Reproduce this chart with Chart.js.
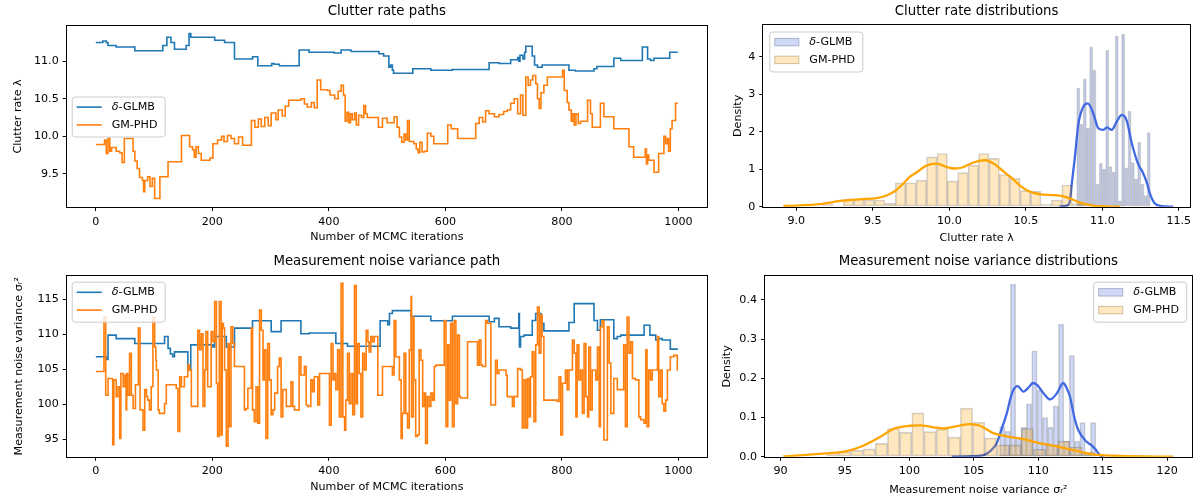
<!DOCTYPE html>
<html>
<head>
<meta charset="utf-8">
<script src="https://cdn.jsdelivr.net/npm/chart.js@4.4.1/dist/chart.umd.min.js"></script>
<style>
  body { margin: 0; background: #fff; width: 1196px; height: 501px; overflow: hidden; position: relative; }
  canvas { position: absolute; }
</style>
</head>
<body>
<canvas id="clutterPath" width="720" height="250" style="left:0;top:0"></canvas>
<canvas id="clutterDist" width="476" height="250" style="left:720px;top:0"></canvas>
<canvas id="noisePath" width="720" height="251" style="left:0;top:250px"></canvas>
<canvas id="noiseDist" width="476" height="251" style="left:720px;top:250px"></canvas>
<script>
// --- paths: change points [iteration, value] ---
const iterTicks = [0, 200, 400, 600, 800, 1000];
const clutterTicks = [9.5, 10.0, 10.5, 11.0];
const noiseTicks = [95, 100, 105, 110, 115];

const clutterGlmb = [[0,11.25],[12,11.27],[18,11.25],[21,11.21],[35,11.19],[67,11.14],[115,11.21],[122,11.32],[129,11.25],[135,11.16],[155,11.21],[160,11.37],[163,11.32],[204,11.28],[221,11.25],[238,11.03],[269,11.06],[278,10.94],[302,10.97],[306,10.96],[315,10.94],[349,11.15],[366,11.12],[409,11.11],[421,11.15],[438,11.13],[486,11.10],[494,11.07],[503,10.92],[506,10.95],[509,10.88],[511,10.84],[544,10.90],[575,10.88],[612,10.89],[675,10.98],[692,10.97],[712,11.02],[724,11.05],[726,11.00],[728,11.08],[733,11.03],[736,11.12],[738,11.20],[749,11.07],[753,10.95],[758,10.92],[766,10.95],[812,10.88],[823,10.87],[855,10.90],[860,10.93],[889,11.04],[901,11.01],[938,11.19],[947,11.03],[952,11.01],[958,11.04],[985,11.12],[999,11.12]];

const clutterPhd = [[0,9.89],[15,9.95],[18,9.77],[21,9.97],[24,9.8],[27,9.85],[35,9.8],[41,9.78],[45,9.65],[49,9.97],[64,9.8],[67,9.67],[71,9.57],[75,9.45],[80,9.41],[82,9.26],[84,9.41],[89,9.46],[93,9.33],[97,9.44],[101,9.17],[110,9.46],[124,9.66],[147,10.01],[161,9.86],[166,9.82],[169,9.72],[172,9.86],[176,9.77],[181,9.68],[196,9.71],[201,9.9],[209,9.95],[216,10.0],[220,9.93],[226,10.01],[232,9.97],[238,9.9],[245,9.99],[252,9.88],[267,10.21],[273,10.12],[279,10.23],[284,10.13],[290,10.25],[296,10.14],[301,10.31],[309,10.22],[313,10.35],[320,10.27],[325,10.4],[331,10.48],[352,10.5],[358,10.43],[363,10.39],[370,10.45],[375,10.38],[380,10.75],[386,10.62],[398,10.61],[402,10.55],[410,10.5],[416,10.6],[421,10.68],[425,10.55],[428,10.2],[431,10.32],[434,10.18],[437,10.3],[440,10.22],[444,10.31],[447,10.15],[451,10.28],[456,10.25],[460,10.41],[463,10.3],[466,10.25],[478,10.25],[485,10.12],[492,10.24],[500,10.18],[512,10.26],[517,10.12],[521,9.99],[525,9.92],[529,10.03],[532,9.95],[535,10.21],[538,9.93],[546,9.9],[550,9.83],[553,9.78],[556,9.92],[560,9.79],[564,9.8],[569,10.04],[575,10.0],[580,9.9],[604,10.15],[610,10.1],[621,9.97],[652,10.17],[658,10.25],[664,10.19],[669,10.34],[675,10.3],[684,10.26],[692,10.29],[700,10.33],[706,10.35],[712,10.44],[718,10.5],[724,10.3],[729,10.55],[733,10.28],[738,10.79],[742,10.68],[746,10.75],[750,10.81],[755,10.7],[758,10.5],[761,10.37],[764,10.58],[769,10.68],[775,10.79],[801,10.88],[804,10.61],[809,10.45],[812,10.35],[816,10.2],[818,10.3],[821,10.15],[824,10.3],[828,10.17],[832,10.2],[844,10.48],[849,10.3],[852,10.12],[866,10.44],[872,10.26],[889,10.1],[915,9.86],[923,9.72],[943,9.83],[945,9.63],[947,9.75],[949,9.68],[958,9.52],[966,9.77],[975,10.0],[978,9.9],[981,9.97],[983,9.8],[986,10.1],[989,10.21],[995,10.44],[999,10.44]];

const noiseGlmb = [[0,106.8],[18,106.4],[21,109.9],[35,109.4],[67,108.7],[118,109.7],[124,108.0],[128,107.2],[132,106.8],[135,107.5],[158,104.9],[163,108.5],[201,108.2],[204,109.7],[224,108.2],[238,110.9],[269,111.95],[301,110.4],[318,111.95],[352,110.1],[366,110.2],[412,108.7],[432,108.3],[488,111.95],[501,111.4],[504,113.0],[509,113.4],[541,112.6],[575,111.95],[612,112.6],[675,111.8],[684,112.3],[692,111.1],[712,110.9],[726,113.0],[727,108.2],[729,109.7],[735,109.9],[749,112.0],[755,113.0],[764,111.6],[769,110.5],[812,111.7],[821,114.4],[855,112.0],[861,110.6],[866,112.1],[889,109.4],[895,109.7],[901,109.9],[941,111.3],[951,109.9],[961,109.2],[966,109.4],[972,109.2],[986,107.9],[999,107.9]];

const noisePhd = [[0,104.7],[14,112.5],[17,101.3],[21,103.7],[29,94.2],[31,103.5],[35,101.1],[38,102.5],[41,95.1],[43,104.4],[47,102.5],[50,104.2],[52,99.2],[53,104.4],[55,101.3],[58,107.3],[61,101.3],[64,99.4],[68,102.8],[73,110.9],[76,99.2],[81,96.3],[84,102.1],[87,101.1],[89,100.6],[92,99.2],[95,102.5],[98,112.5],[101,108.2],[103,106.3],[104,104.9],[107,99.2],[109,98.7],[118,100.1],[121,102.8],[138,102.3],[141,96.1],[144,103.95],[147,102.5],[152,103.95],[158,105.6],[161,104.9],[164,99.7],[175,110.6],[178,107.8],[181,110.1],[184,99.7],[187,104.9],[189,110.4],[192,102.5],[198,110.4],[201,108.95],[204,114.7],[207,103],[209,95.4],[212,114.7],[215,95.6],[217,111.6],[219,110.9],[221,104.9],[224,94],[227,108.7],[229,96.8],[232,111.1],[235,108.7],[238,105.4],[255,99.2],[258,99.4],[261,102.3],[267,110.9],[269,99.2],[272,97.5],[275,102.5],[278,97.3],[281,113.5],[284,110.6],[287,103.5],[289,107.8],[292,95.1],[295,108.7],[298,103.5],[301,98.5],[304,99.2],[307,101.6],[312,105.4],[315,106.6],[318,98.2],[321,102.1],[327,99.7],[335,103.2],[338,99.7],[341,99.2],[349,106.8],[352,104.2],[358,105.4],[361,99.9],[364,99.7],[369,103.5],[372,101.8],[375,103.95],[381,99.9],[384,104.4],[401,97],[404,108.7],[407,103.5],[409,104.4],[412,102.1],[415,107.8],[418,98.2],[421,117.3],[424,98.2],[427,96.3],[429,100.6],[432,107.3],[435,100.1],[438,104.4],[441,98.5],[444,117],[447,100.1],[449,108.7],[452,104.4],[455,98.2],[458,107.3],[461,104.9],[464,110.6],[467,108.95],[469,107.5],[472,109.7],[475,108.95],[478,109.7],[484,101.3],[492,105.4],[509,104.2],[512,112],[515,106.8],[521,103.5],[524,95.1],[526,98.7],[529,107.3],[532,98.7],[535,96.6],[538,107.8],[541,115.4],[542,98.2],[545,112.5],[546,103.5],[549,95.4],[552,95.6],[555,107.8],[558,106.3],[561,99.7],[564,101.6],[566,94.4],[569,101.1],[572,99.7],[575,101.6],[578,100.6],[581,105.4],[584,105.6],[598,112],[601,96.8],[604,108.5],[606,100.6],[609,111.6],[612,96.8],[615,112],[618,100.1],[621,109.9],[624,101.1],[626,100.9],[638,108.95],[655,105.6],[658,109.2],[661,105.6],[664,105.4],[669,112],[672,111.6],[678,99.9],[686,106.3],[689,104.4],[692,104.9],[704,104.2],[706,101.1],[715,99.7],[718,101.1],[724,105.1],[729,104.9],[732,96.6],[735,103.5],[738,96.6],[741,103.7],[744,98.2],[746,103.95],[749,107.5],[752,97.5],[755,108.5],[758,113.9],[761,107.3],[764,112.8],[766,109.7],[769,100.6],[792,100.4],[795,103.95],[798,95.6],[801,103],[806,104.9],[809,102.1],[812,104.9],[818,109.2],[821,107.3],[824,98.2],[826,108.5],[829,103.5],[832,104.9],[835,98.7],[838,108.7],[841,101.1],[844,98.2],[846,108.2],[849,99.2],[852,104.9],[858,103.5],[861,108.2],[864,96.8],[866,111.1],[869,112],[872,94.9],[878,111.1],[881,105.9],[884,98.7],[889,103.7],[895,102.1],[906,108.5],[909,96.8],[912,112.5],[915,107.3],[918,108.95],[921,103.7],[926,103.5],[932,98.2],[935,97.8],[941,97.3],[944,107.8],[946,96.8],[949,104.9],[952,103.5],[955,104.9],[964,109.7],[966,101.1],[969,104.9],[972,100.1],[975,99],[978,100.6],[981,104.9],[986,106.8],[992,107],[998,104.9],[999,104.9]];

// --- clutter rate distributions ---
const lambdaTicks = [9.0, 9.5, 10.0, 10.5, 11.0, 11.5];
const densityTicksTop = [0, 1, 2, 3, 4];
const lambdaBinsPhd = [9.205,9.273,9.341,9.409,9.477,9.545,9.613,9.681,9.749,9.817,9.885,9.953,10.021,10.089,10.157,10.225,10.293,10.361,10.429,10.497,10.565,10.633,10.701,10.769,10.837,10.905,10.973,11.041,11.109];
const lambdaHistPhd = [0.07,0,0.2,0.2,0.18,0.18,0.09,0.64,0.64,0.71,1.33,1.42,0.69,0.91,1.11,1.42,1.29,0.86,0.76,0.43,0.41,0.07,0.18,0.58,0.08,0.03,0.03,0,0.03];
const lambdaBinsGlmb = [10.843,10.864,10.885,10.906,10.927,10.948,10.969,10.990,11.011,11.032,11.053,11.074,11.094,11.115,11.136,11.157,11.178,11.199,11.220,11.241,11.262,11.283,11.303];
const lambdaHistGlmb = [3.16,2.2,3.41,2.09,4.27,3.65,0.6,1.16,1.0,4.18,1.07,0.93,4.56,0.16,4.6,1.04,2.55,1.18,0.74,1.72,0.6,0.3,1.98];
const lambdaKdeGlmb = [[10.72,0],[10.76,0.02],[10.785,0.1],[10.80,0.6],[10.82,1.3],[10.843,2.2],[10.876,2.67],[10.905,2.76],[10.94,2.5],[10.974,2.09],[11.007,2.05],[11.03,2.12],[11.061,2.05],[11.094,2.27],[11.127,2.45],[11.159,2.3],[11.192,1.7],[11.235,1.13],[11.26,0.95],[11.29,0.65],[11.315,0.3],[11.34,0.1],[11.38,0.02],[11.464,0]];
const lambdaKdePhd = [[8.915,0.02],[9.0,0.03],[9.155,0.07],[9.3,0.16],[9.42,0.2],[9.525,0.23],[9.59,0.3],[9.645,0.42],[9.7,0.62],[9.743,0.8],[9.787,0.92],[9.852,1.1],[9.918,1.15],[9.983,1.06],[10.03,1.02],[10.08,1.04],[10.157,1.18],[10.235,1.24],[10.29,1.15],[10.331,1.02],[10.375,0.87],[10.418,0.73],[10.46,0.57],[10.506,0.44],[10.55,0.37],[10.593,0.33],[10.68,0.31],[10.74,0.28],[10.8,0.2],[10.854,0.11],[10.941,0.03],[11.03,0.01],[11.116,0]];

// --- measurement noise variance distributions ---
const sigmaTicks = [90, 95, 100, 105, 110, 115, 120];
const densityTicksBottom = [0, 0.1, 0.2, 0.3, 0.4];
const sigmaBinsPhd = [94.05,94.99,95.94,96.88,97.83,98.77,99.71,100.66,101.60,102.55,103.49,104.43,105.38,106.32,107.27,108.21,109.15,110.10,111.04,111.99,112.93,113.87,114.82];
const sigmaHistPhd = [0.01,0.013,0.016,0.02,0.034,0.072,0.062,0.112,0.064,0.07,0.05,0.124,0.088,0.048,0.03,0.03,0.072,0.019,0.03,0.04,0.025,0.012,0.005];
const sigmaBinsGlmb = [105.13,105.55,105.96,106.38,106.79,107.21,107.62,108.04,108.45,108.87,109.28,109.70,110.11,110.53,110.94,111.36,111.77,112.19,112.60,113.02,113.43,113.85,114.26];
const sigmaHistGlmb = [0.003,0,0,0,0,0.077,0.065,0.44,0.05,0.075,0.135,0.27,0.17,0.1,0.075,0.13,0.338,0.04,0.258,0.04,0.087,0.008,0.087];
const sigmaKdeGlmb = [[103.28,0],[104.5,0.001],[105.73,0.004],[106.3,0.015],[106.77,0.034],[107.2,0.075],[107.55,0.11],[107.85,0.15],[108.06,0.17],[108.4,0.18],[108.84,0.166],[109.2,0.175],[109.61,0.188],[109.9,0.183],[110.13,0.174],[110.5,0.158],[110.91,0.146],[111.43,0.161],[111.94,0.188],[112.2,0.175],[112.46,0.153],[112.8,0.1],[113.1,0.068],[113.75,0.038],[114.1,0.03],[114.4,0.02],[114.79,0.004],[115.04,0]];
const sigmaKdePhd = [[90.22,0.001],[93.06,0.007],[95.13,0.014],[96.42,0.028],[97.72,0.05],[98.75,0.071],[100.05,0.079],[100.82,0.08],[101.86,0.075],[102.63,0.072],[103.67,0.078],[104.7,0.083],[105.48,0.079],[106.51,0.06],[107.55,0.052],[109.1,0.043],[110.13,0.034],[111.16,0.028],[112.71,0.017],[114.27,0.006],[116.34,0.002],[120.47,0]];

const BLUE = '#1f77b4', ORANGE = '#ff7f0e';
const KDE_BLUE = '#4169e1', KDE_ORANGE = '#ffa500';
const HIST_BLUE = 'rgba(65,105,225,0.25)', HIST_ORANGE = 'rgba(255,165,0,0.25)';
const HIST_EDGE = 'rgba(0,0,0,0.18)';
const FONT = 'DejaVu Sans';

Chart.defaults.font.family = FONT;
Chart.defaults.font.size = 11.1;
Chart.defaults.color = '#000';

const xy = pts => pts.map(p => ({ x: p[0], y: p[1] }));
const bars = (centers, heights) => centers.map((c, i) => ({ x: c, y: heights[i] }));

function axis(pos, min, max, ticks, digits, size, title, titlePad) {
  const horizontal = pos === 'bottom';
  return {
    type: 'linear', position: pos, min: min, max: max, offset: false,
    afterBuildTicks: s => { s.ticks = ticks.map(v => ({ value: v })); },
    afterFit: s => { if (horizontal) s.height = size; else s.width = size; },
    ticks: { padding: 4, autoSkip: false, maxRotation: 0, color: '#000', callback: v => Number(v).toFixed(digits) },
    grid: { offset: false, drawOnChartArea: false, drawTicks: true, tickLength: 4, color: '#000', lineWidth: 1 },
    border: { display: false },
    title: { display: true, text: title, color: '#000', font: { size: 11.1 },
             padding: horizontal ? { top: 0, bottom: titlePad } : { top: titlePad, bottom: 0 } }
  };
}

function pathLine(label, pts, color, order) {
  return { type: 'line', label: label, data: xy(pts), borderColor: color, borderWidth: 1.6,
           pointRadius: 0, stepped: true, fill: false, order: order };
}

function kdeLine(pts, color, order) {
  return { type: 'line', data: xy(pts), borderColor: color, borderWidth: 2.3, pointRadius: 0,
           cubicInterpolationMode: 'monotone', fill: false, order: order };
}

function histBars(label, centers, heights, color, order) {
  return { type: 'bar', label: label, data: bars(centers, heights),
           backgroundColor: color, borderColor: HIST_EDGE, borderWidth: 1, borderSkipped: false,
           grouped: false, barPercentage: 1, categoryPercentage: 1, order: order };
}

// bar width = one bin step measured on the chart's own x scale
function fitBins(chart) {
  const sx = chart.scales.x;
  chart.data.datasets.forEach(ds => {
    if (ds.type !== 'bar') return;
    const step = ds.data[1].x - ds.data[0].x;
    ds.barThickness = Math.abs(sx.getPixelForValue(ds.data[0].x + step) - sx.getPixelForValue(ds.data[0].x));
  });
  chart.update();
}

function roundRect(ctx, x, y, w, h, r) {
  ctx.beginPath();
  ctx.moveTo(x + r, y);
  ctx.lineTo(x + w - r, y); ctx.quadraticCurveTo(x + w, y, x + w, y + r);
  ctx.lineTo(x + w, y + h - r); ctx.quadraticCurveTo(x + w, y + h, x + w - r, y + h);
  ctx.lineTo(x + r, y + h); ctx.quadraticCurveTo(x, y + h, x, y + h - r);
  ctx.lineTo(x, y + r); ctx.quadraticCurveTo(x, y, x + r, y);
  ctx.closePath();
}

function drawLabel(ctx, text, x, y) {
  ctx.textBaseline = 'middle'; ctx.textAlign = 'left'; ctx.fillStyle = '#000';
  if (text.startsWith('δ')) {
    ctx.font = 'italic 11.1px "' + FONT + '"';
    ctx.fillText('δ', x, y);
    x += ctx.measureText('δ').width;
    text = text.slice(1);
  }
  ctx.font = '11.1px "' + FONT + '"';
  ctx.fillText(text, x, y);
}

// axes frame + matplotlib style legend, drawn over the data
const mplDecor = {
  id: 'mplDecor',
  afterDatasetsDraw(chart, args, opts) {
    const ctx = chart.ctx, a = chart.chartArea;
    ctx.save();
    ctx.strokeStyle = '#000'; ctx.lineWidth = 1;
    const l = Math.round(a.left), t = Math.round(a.top), r = Math.round(a.right), b = Math.round(a.bottom);
    ctx.strokeRect(l - 0.5, t - 0.5, r - l + 1, b - t + 1);

    const L = opts.legend;
    if (L) {
      const w = 93, h = 40;
      const x = L.right != null ? a.right - L.right - w : a.left + L.left;
      const y = a.top + L.top;
      roundRect(ctx, x + 0.5, y + 0.5, w, h, 3);
      ctx.fillStyle = 'rgba(255,255,255,0.8)'; ctx.fill();
      ctx.strokeStyle = '#cccccc'; ctx.lineWidth = 1; ctx.stroke();
      L.items.forEach((it, i) => {
        const ds = chart.data.datasets[it.ds];
        const ry = y + 10.6 + i * 17.8;
        if (it.kind === 'line') {
          ctx.strokeStyle = ds.borderColor; ctx.lineWidth = ds.borderWidth;
          ctx.beginPath(); ctx.moveTo(x + 5, ry); ctx.lineTo(x + 30, ry); ctx.stroke();
        } else {
          ctx.fillStyle = ds.backgroundColor; ctx.fillRect(x + 5, ry - 4.2, 25, 8.4);
          ctx.strokeStyle = ds.borderColor; ctx.lineWidth = 1; ctx.strokeRect(x + 5.5, ry - 3.7, 24, 7.4);
        }
        drawLabel(ctx, ds.label, x + 40, ry);
      });
    }
    ctx.restore();
  }
};

function makeChart(id, cfg) {
  return new Chart(document.getElementById(id), {
    type: 'line',
    data: { datasets: cfg.datasets },
    options: {
      responsive: false, animation: false, events: [],
      layout: { padding: { left: 0, right: cfg.padRight, top: 0, bottom: 0 } },
      scales: cfg.scales,
      plugins: {
        legend: { display: false },
        tooltip: { enabled: false },
        title: { display: true, text: cfg.title, fullSize: false, color: '#000',
                 font: { size: 13.3, weight: 'normal' }, padding: { top: 4, bottom: cfg.titleGap } },
        mplDecor: { legend: cfg.legend }
      }
    },
    plugins: [mplDecor]
  });
}

// top left
makeChart('clutterPath', {
  title: 'Clutter rate paths', titleGap: 6.04, padRight: 13,
  datasets: [pathLine('δ-GLMB', clutterGlmb, BLUE, 1), pathLine('GM-PHD', clutterPhd, ORANGE, 0)],
  scales: {
    x: axis('bottom', -49.95, 1048.95, iterTicks, 0, 43, 'Number of MCMC iterations', 6.3),
    y: axis('left', 9.056, 11.47, clutterTicks, 1, 66.7, 'Clutter rate λ', 11.6)
  },
  legend: { left: 5, top: 70.5, items: [{ ds: 0, kind: 'line' }, { ds: 1, kind: 'line' }] }
});

// bottom left
makeChart('noisePath', {
  title: 'Measurement noise variance path', titleGap: 5.74, padRight: 13,
  datasets: [pathLine('δ-GLMB', noiseGlmb, BLUE, 1), pathLine('GM-PHD', noisePhd, ORANGE, 0)],
  scales: {
    x: axis('bottom', -49.95, 1048.95, iterTicks, 0, 44.3, 'Number of MCMC iterations', 7.3),
    y: axis('left', 92.5, 118.4, noiseTicks, 0, 66.7, 'Measurement noise variance σᵣ²', 12)
  },
  legend: { left: 5, top: 6, items: [{ ds: 0, kind: 'line' }, { ds: 1, kind: 'line' }] }
});

// top right
const clutterDist = makeChart('clutterDist', {
  title: 'Clutter rate distributions', titleGap: 5.04, padRight: 6,
  datasets: [
    histBars('δ-GLMB', lambdaBinsGlmb, lambdaHistGlmb, HIST_BLUE, 3),
    kdeLine(lambdaKdeGlmb, KDE_BLUE, 2),
    histBars('GM-PHD', lambdaBinsPhd, lambdaHistPhd, HIST_ORANGE, 1),
    kdeLine(lambdaKdePhd, KDE_ORANGE, 0)
  ],
  scales: {
    x: axis('bottom', 8.784, 11.573, lambdaTicks, 1, 43.3, 'Clutter rate λ', 4.8),
    y: axis('left', 0, 4.85, densityTicksTop, 0, 43.3, 'Density', 11.6)
  },
  legend: { left: 6, top: 6.5, items: [{ ds: 0, kind: 'patch' }, { ds: 2, kind: 'patch' }] }
});
fitBins(clutterDist);

// bottom right
const noiseDist = makeChart('noiseDist', {
  title: 'Measurement noise variance distributions', titleGap: 6.04, padRight: 4.3,
  datasets: [
    histBars('δ-GLMB', sigmaBinsGlmb, sigmaHistGlmb, HIST_BLUE, 3),
    kdeLine(sigmaKdeGlmb, KDE_BLUE, 2),
    histBars('GM-PHD', sigmaBinsPhd, sigmaHistPhd, HIST_ORANGE, 1),
    kdeLine(sigmaKdePhd, KDE_ORANGE, 0)
  ],
  scales: {
    x: axis('bottom', 88.8, 121.9, sigmaTicks, 0, 44.3, 'Measurement noise variance σᵣ²', 4.3),
    y: axis('left', 0, 0.461, densityTicksBottom, 1, 45, 'Density', 0.04)
  },
  legend: { right: 5.5, top: 5.7, items: [{ ds: 0, kind: 'patch' }, { ds: 2, kind: 'patch' }] }
});
fitBins(noiseDist);
</script>
</body>
</html>
